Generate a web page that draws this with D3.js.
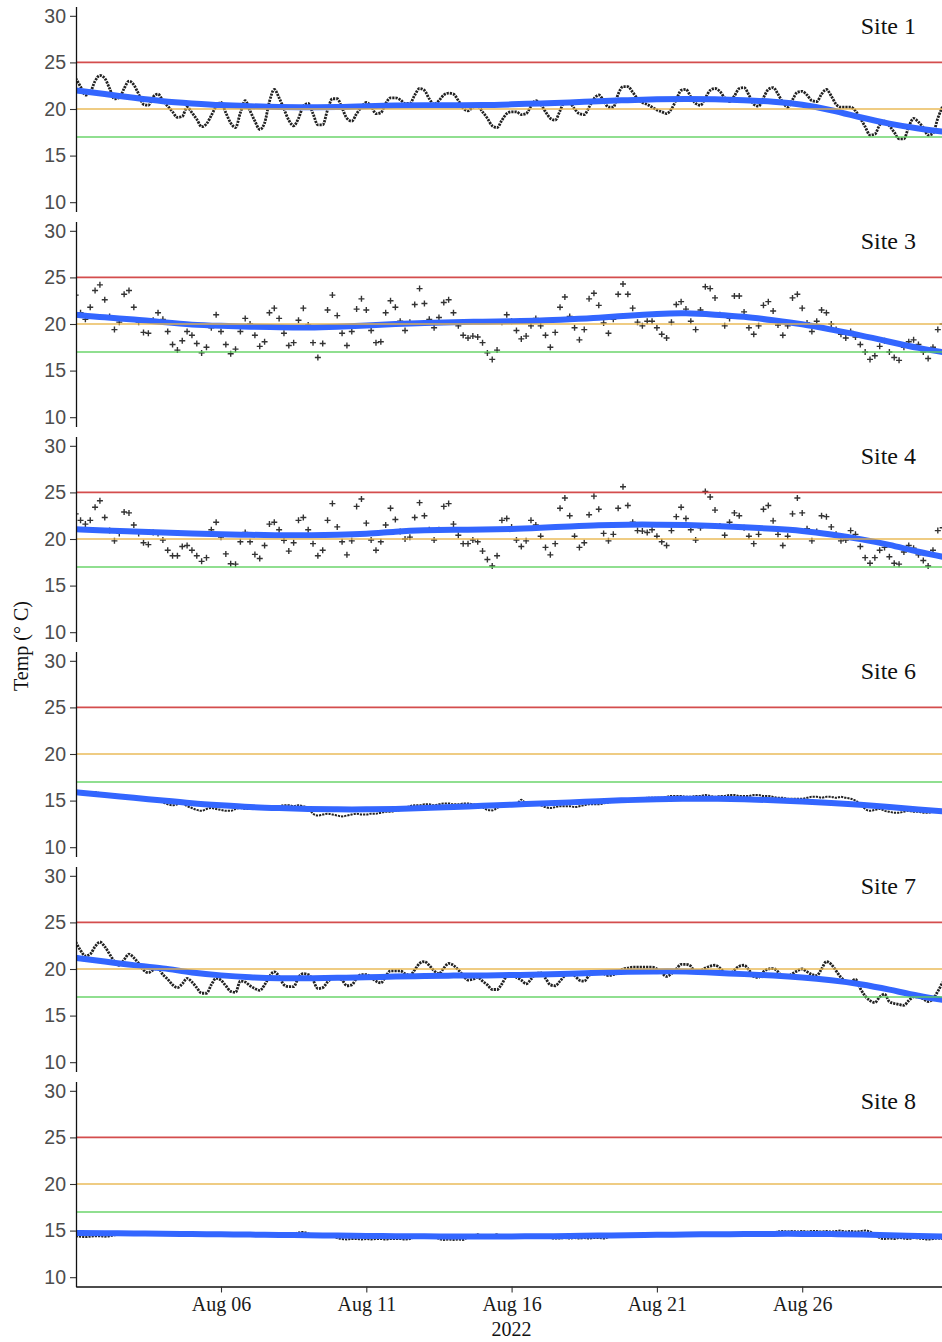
<!DOCTYPE html>
<html><head><meta charset="utf-8">
<script src="https://cdn.jsdelivr.net/npm/d3@7"></script>
<style>body{margin:0;background:#fff}</style>
</head><body><svg id="c" width="942" height="1342"></svg>
<script>
// ---------- DATA ----------
const siteNames = ["Site 1","Site 3","Site 4","Site 6","Site 7","Site 8"];
// 4-hourly readings starting 2022-08-01 00:00
const site1Temp = [
23.3,22.4,21.5,21.8,23.0,23.6, 23.3,22.2,21.1,21.2,22.2,23.0, 22.6,21.6,20.5,20.4,21.3,21.6,
20.9,20.3,19.7,19.1,19.2,20.2, 19.6,18.9,18.1,18.4,19.3,20.3, 20.7,19.6,18.5,18.0,19.6,20.9,
19.8,18.7,17.8,18.5,20.8,22.1, 21.2,20.0,18.8,18.2,19.0,20.3, 20.6,19.5,18.3,18.3,19.9,21.1,
21.1,20.1,19.0,18.7,19.5,20.2, 20.7,20.3,19.5,19.6,20.6,21.2, 21.2,21.0,20.6,20.6,21.5,22.2,
22.0,21.1,20.5,20.9,21.5,21.7, 21.6,20.9,20.1,19.8,20.2,20.3, 19.7,19.0,18.2,18.0,18.8,19.5,
19.7,19.7,19.4,19.5,20.3,20.9, 20.5,19.7,19.0,18.8,19.8,20.8, 20.7,20.0,19.5,19.4,20.2,21.1,
21.5,20.9,20.2,20.2,21.6,22.4, 22.4,21.8,21.1,20.7,20.5,20.2, 19.9,19.7,19.5,20.0,21.0,22.0,
22.1,21.3,20.6,20.4,21.2,22.0, 22.2,21.9,21.2,20.8,21.4,22.2, 22.3,21.5,20.5,20.3,21.2,22.1,
22.3,21.6,20.7,20.2,21.0,21.8, 21.9,21.5,20.9,20.8,21.6,22.1, 21.4,20.5,20.2,20.2,20.2,19.8,
19.0,18.1,17.2,17.3,18.3,18.7, 18.2,17.5,16.8,16.8,18.1,19.0, 18.6,18.0,17.2,17.4,19.0,20.3];
const site3Temp = [
23.1,21.2,20.5,21.8,23.6,24.2, 22.6,20.8,19.4,20.2,23.2,23.6, 21.8,20.2,19.1,19.0,20.4,21.2,
20.5,19.2,17.8,17.2,18.2,19.2, 18.8,17.9,16.9,17.5,19.6,21.0, 19.2,17.8,16.8,17.3,19.2,20.6,
20.0,18.8,17.6,18.1,21.2,21.7, 20.6,19.0,17.7,18.0,20.4,21.7, 19.9,18.0,16.4,17.9,21.5,23.1,
20.9,19.0,17.7,19.2,21.6,22.7, 21.5,19.3,18.0,18.1,21.2,22.5, 21.8,20.3,19.3,20.2,22.1,23.8,
22.2,20.5,19.6,20.7,22.3,22.6, 21.2,19.8,18.8,18.5,18.7,18.6, 18.0,16.9,16.2,17.2,20.2,21.0,
20.3,19.3,18.4,18.7,19.8,20.6, 19.8,18.8,17.5,19.1,21.8,22.9, 20.8,19.6,18.3,19.4,22.7,23.3,
22.0,20.1,19.0,20.5,23.2,24.3, 23.2,21.7,20.2,19.8,20.3,20.3, 19.6,18.9,18.5,20.2,22.1,22.4,
21.6,20.3,19.4,21.5,24.0,23.8, 22.8,21.0,19.8,20.6,23.0,23.0, 21.3,19.6,18.9,19.8,22.0,22.4,
21.4,19.9,18.8,19.8,22.8,23.2, 21.7,20.1,19.2,20.3,21.5,21.2, 20.0,19.4,18.9,18.5,19.2,18.6,
17.8,17.0,16.2,16.6,17.6,18.2, 17.0,16.4,16.1,17.5,18.1,18.3, 17.8,17.0,16.3,17.5,19.4,20.0];
const site4Temp = [
22.7,22.0,21.6,22.0,23.4,24.1, 22.3,20.9,19.8,20.6,22.9,22.8, 21.5,20.6,19.6,19.4,20.7,20.6,
19.9,18.8,18.2,18.2,19.2,19.3, 18.8,18.2,17.6,18.0,21.0,21.8, 20.2,18.4,17.35,17.3,19.7,20.7,
19.7,18.35,17.9,19.3,21.6,21.8, 21.0,19.85,18.7,19.6,22.0,22.3, 21.0,19.5,18.2,18.8,22.0,23.8,
21.3,19.7,18.3,19.8,23.5,24.3, 21.7,19.9,18.8,19.7,21.5,23.3, 22.1,20.8,20.0,20.2,22.3,23.9,
22.5,21.0,19.9,21.0,23.5,23.8, 21.6,20.4,19.5,19.5,19.9,19.7, 18.7,17.8,17.1,18.2,22.0,22.2,
21.3,19.9,19.2,19.8,22.0,21.5, 20.3,19.1,18.3,19.5,23.3,24.4, 22.5,20.3,19.1,19.6,22.6,24.6,
23.2,20.6,19.8,20.5,23.3,25.6, 23.6,21.8,20.9,20.85,20.7,21.0, 20.3,19.7,19.3,20.9,22.4,23.4,
22.2,21.0,19.9,21.2,25.1,24.5, 23.1,21.4,20.4,21.8,22.8,22.5, 21.2,20.3,19.5,20.5,23.2,23.6,
21.95,20.5,19.3,20.3,22.7,24.4, 22.8,21.1,19.8,20.8,22.5,22.4, 21.3,20.5,19.8,19.9,20.9,20.5,
19.2,18.0,17.4,18.0,18.8,19.1, 18.1,17.4,17.3,18.6,19.3,19.0, 18.3,17.7,17.1,18.8,20.9,21.2];
const site6Temp = [
15.9,15.95,15.9,15.85,15.9,15.8, 15.7,15.6,15.5,15.55,15.6,15.4, 15.3,15.2,15.1,15.15,15.2,15.0,
14.8,14.6,14.5,14.6,14.7,14.4, 14.2,14.0,13.9,14.1,14.2,14.1, 14.0,13.9,13.9,14.1,14.2,14.1,
14.1,14.2,14.2,14.3,14.4,14.3, 14.4,14.5,14.5,14.4,14.5,14.4, 14.2,13.6,13.4,13.5,13.6,13.5,
13.4,13.3,13.4,13.5,13.6,13.5, 13.5,13.6,13.6,13.7,13.8,13.8, 13.9,14.0,14.2,14.4,14.5,14.5,
14.6,14.6,14.5,14.6,14.7,14.7, 14.6,14.6,14.7,14.7,14.6,14.5, 14.3,14.0,13.95,14.2,14.4,14.5,
14.5,14.6,15.1,14.7,14.6,14.7, 14.5,14.3,14.2,14.3,14.4,14.4, 14.4,14.3,14.4,14.5,14.6,14.6,
14.6,14.7,14.8,14.9,15.0,15.1, 15.1,15.0,15.1,15.2,15.3,15.3, 15.3,15.3,15.4,15.5,15.5,15.5,
15.4,15.4,15.5,15.5,15.6,15.5, 15.4,15.5,15.5,15.6,15.6,15.5, 15.5,15.5,15.6,15.6,15.5,15.5,
15.4,15.3,15.3,15.2,15.2,15.2, 15.2,15.3,15.4,15.4,15.3,15.4, 15.4,15.3,15.4,15.3,15.2,15.0,
14.6,14.1,13.9,14.0,14.1,13.9, 13.8,13.7,13.7,13.8,13.9,13.8, 13.8,13.7,13.7,13.8,13.9,13.8];
const site7Temp = [
22.9,22.0,21.4,21.6,22.4,22.9, 22.4,21.6,20.8,20.4,21.0,21.6, 21.2,20.6,19.9,19.6,19.9,20.1,
19.4,18.9,18.3,18.0,18.4,19.0, 18.6,18.0,17.4,17.4,18.3,19.0, 18.8,18.2,17.6,17.5,18.7,18.6,
18.2,17.9,17.7,18.3,19.2,19.7, 19.2,18.3,18.1,18.1,19.1,19.5, 19.4,18.8,17.9,18.0,18.6,19.0,
19.0,18.8,18.2,18.3,19.0,19.4, 19.4,19.1,18.7,18.5,19.2,19.8, 19.8,19.8,19.5,19.3,19.9,20.6,
20.8,20.4,19.8,19.5,20.1,20.6, 20.4,19.9,19.3,18.8,18.9,19.1, 18.7,18.3,17.8,17.8,18.4,19.2,
19.3,19.1,18.8,18.4,18.9,19.5, 19.6,19.0,18.3,18.2,18.7,19.3, 19.5,19.3,18.8,18.7,19.3,19.6,
19.6,19.5,19.3,19.4,19.6,20.0, 20.1,20.2,20.2,20.2,20.2,20.2, 20.0,19.6,19.2,19.5,20.0,20.5,
20.5,20.3,19.6,19.8,20.1,20.3, 20.4,20.1,19.6,19.4,19.9,20.3, 20.4,19.9,19.2,19.1,19.7,20.0,
20.05,19.7,19.1,19.2,19.5,19.8, 20.0,19.7,19.4,19.3,20.0,20.8, 20.5,19.8,19.1,18.7,18.6,18.9,
17.9,17.1,16.6,16.4,17.0,17.3, 16.5,16.3,16.2,16.1,16.6,17.0, 17.0,16.8,16.5,16.8,17.6,18.6];
const site8Temp = [
14.4,14.35,14.3,14.35,14.4,14.4, 14.35,14.4,14.5,14.6,14.7,14.7, 14.75,14.7,14.7,14.75,14.8,14.7,
14.85,14.7,14.6,14.6,14.65,14.6, 14.6,14.55,14.6,14.65,14.6,14.6, 14.6,14.55,14.6,14.6,14.65,14.6,
14.6,14.55,14.6,14.6,14.6,14.55, 14.55,14.6,14.6,14.65,14.8,14.85, 14.7,14.5,14.45,14.4,14.45,14.4,
14.2,14.1,14.05,14.1,14.1,14.05, 14.1,14.05,14.1,14.1,14.05,14.1, 14.1,14.1,14.05,14.1,14.3,14.35,
14.35,14.3,14.35,14.1,14.0,14.05, 14.0,14.05,14.0,14.3,14.4,14.6, 14.4,14.35,14.4,14.6,14.35,14.3,
14.35,14.3,14.35,14.4,14.35,14.3, 14.35,14.4,14.2,14.15,14.15,14.2, 14.15,14.2,14.15,14.2,14.15,14.2,
14.2,14.15,14.3,14.4,14.45,14.45, 14.45,14.5,14.5,14.55,14.6,14.6, 14.6,14.6,14.65,14.6,14.65,14.6,
14.6,14.65,14.6,14.65,14.6,14.6, 14.65,14.6,14.6,14.65,14.6,14.6, 14.6,14.65,14.6,14.7,14.65,14.7,
14.8,14.9,14.95,14.9,14.95,14.9, 14.95,14.9,14.95,14.95,14.9,14.95, 14.9,14.95,15.0,14.9,14.95,14.9,
14.95,15.0,14.9,14.5,14.2,14.1, 14.15,14.1,14.2,14.15,14.1,14.2, 14.15,14.1,14.05,14.1,14.15,14.1];
// smoothed trend, daily at 00:00 from Aug 1 to Aug 31
const site1Trend = [22.0,21.6,21.2,20.8,20.6,20.4,20.3,20.2,20.2,20.2,20.3,20.4,20.4,20.4,20.4,20.5,20.6,20.7,20.85,20.95,21.05,21.1,21.05,20.95,20.8,20.5,19.9,19.1,18.4,17.9,17.5];
const site3Trend = [21.0,20.7,20.5,20.2,19.9,19.8,19.7,19.65,19.6,19.7,19.85,20.0,20.1,20.2,20.25,20.3,20.35,20.5,20.65,20.9,21.1,21.2,21.0,20.8,20.4,20.0,19.4,18.8,18.1,17.4,16.9];
const site4Trend = [21.05,20.9,20.8,20.7,20.6,20.5,20.45,20.4,20.4,20.45,20.55,20.8,20.95,21.0,21.0,21.05,21.2,21.35,21.5,21.55,21.55,21.5,21.4,21.25,21.1,20.9,20.5,20.0,19.4,18.6,18.0];
const site6Trend = [15.9,15.6,15.3,15.0,14.7,14.5,14.3,14.2,14.1,14.05,14.05,14.1,14.2,14.3,14.45,14.55,14.7,14.8,14.95,15.05,15.15,15.2,15.2,15.15,15.05,14.9,14.75,14.55,14.3,14.05,13.8];
const site7Trend = [21.2,20.8,20.4,20.1,19.6,19.3,19.1,19.0,19.0,19.05,19.1,19.2,19.25,19.3,19.3,19.35,19.4,19.5,19.6,19.7,19.75,19.75,19.6,19.45,19.3,19.1,18.8,18.4,17.8,17.1,16.6];
const site8Trend = [14.75,14.72,14.7,14.65,14.62,14.6,14.57,14.53,14.5,14.46,14.43,14.4,14.38,14.36,14.36,14.37,14.39,14.42,14.46,14.5,14.55,14.58,14.61,14.63,14.65,14.65,14.63,14.58,14.5,14.42,14.35];
const yTicks = [10,15,20,25,30];
const xTickLabels = ["Aug 06","Aug 11","Aug 16","Aug 21","Aug 26"];
const thresholdValues = [25,20,17];
const yearLabel = "2022";
const yTitle = "Temp (° C)";

// ---------- CHART ----------
const temps = [site1Temp, site3Temp, site4Temp, site6Temp, site7Temp, site8Temp];
const trends = [site1Trend, site3Trend, site4Trend, site6Trend, site7Trend, site8Trend];
const thresholdColors = ["#d03a3a", "#e8b448", "#5cd05c"];
const markerSites = new Set(["Site 3","Site 4"]);

const svg = d3.select("#c");
const start = Date.UTC(2022,7,1);
const H = 3600*1000;
const x = d3.scaleUtc().domain([new Date(start), new Date(Date.UTC(2022,7,31))]).range([75.7, 947.5]);
const panelH = 205, step = 215, top0 = 6.5;

svg.append("defs").append("clipPath").attr("id","clip")
  .append("rect").attr("x",76).attr("y",-5).attr("width",880).attr("height",215);

siteNames.forEach((name, k) => {
  const top = top0 + step*k;
  const y = d3.scaleLinear().domain([9,31]).range([top+panelH, top]);
  const g = svg.append("g");
  const pg = g.append("g").attr("clip-path","url(#clip)").attr("transform",`translate(0,${top})`);
  const yy = v => y(v) - top;
  const pts = temps[k].map((v,i) => ({t: new Date(start + i*4*H), v}));

  if (markerSites.has(name)) {
    pg.selectAll("path.pt").data(pts).join("path").attr("class","pt")
      .attr("transform", d => `translate(${x(d.t)},${yy(d.v)})`)
      .attr("d","M-3,0H3M0,-3V3")
      .attr("stroke","#333").attr("stroke-width",1.4).attr("fill","none");
  } else {
    const ln = d3.line().x(d => x(d.t)).y(d => yy(d.v)).curve(d3.curveMonotoneX);
    const w = (name === "Site 6" || name === "Site 8") ? 2.0 : 2.8;
    pg.append("path").datum(pts).attr("d", ln)
      .attr("fill","none").attr("stroke","#222").attr("stroke-width",w)
      .attr("stroke-dasharray","2.2,1");
  }

  const tr = trends[k].map((v,i) => ({t: new Date(start + i*24*H), v}));
  pg.append("path").datum(tr)
    .attr("d", d3.line().x(d => x(d.t)).y(d => yy(d.v)).curve(d3.curveBasis))
    .attr("fill","none").attr("stroke","#3366ff").attr("stroke-width",6);

  thresholdValues.forEach((tv, j) => {
    pg.append("line").attr("x1",76).attr("x2",950).attr("y1",yy(tv)).attr("y2",yy(tv))
      .attr("stroke",thresholdColors[j]).attr("stroke-width",1.6).attr("opacity",0.9);
  });

  // y axis
  const ax = g.append("g").attr("transform","translate(76,0)")
    .call(d3.axisLeft(y).tickValues(yTicks).tickSize(6).tickSizeOuter(0).tickPadding(4));
  ax.select(".domain").attr("stroke","#111").attr("stroke-width",1.3);
  ax.selectAll(".tick line").attr("stroke","#333").attr("stroke-width",1.1);
  ax.selectAll(".tick text").attr("fill","#4d4d4d")
    .style("font-family","'Liberation Sans', Arial, sans-serif").style("font-size","19.5px");

  g.append("text").attr("x",916).attr("y",top+27).attr("text-anchor","end")
    .style("font-family","'Liberation Serif', 'Times New Roman', serif").style("font-size","24px")
    .attr("fill","#111").text(name);
});

// x axis on bottom panel
const bottom = top0 + step*5 + panelH;
const parse = d3.utcParse("%b %d %Y");
const tickDates = xTickLabels.map(s => parse(s + " 2022"));
const xa = svg.append("g").attr("transform",`translate(0,${bottom})`)
  .call(d3.axisBottom(x).tickValues(tickDates).tickFormat(d3.utcFormat("%b %d")).tickSize(6).tickSizeOuter(0).tickPadding(4));
xa.select(".domain").attr("stroke","#111").attr("stroke-width",1.3);
xa.selectAll(".tick line").attr("stroke","#333").attr("stroke-width",1.1);
xa.selectAll(".tick text").attr("fill","#1a1a1a")
  .style("font-family","'Liberation Serif', 'Times New Roman', serif").style("font-size","20px");

svg.append("text").attr("x", (x.range()[0]+x.range()[1])/2).attr("y", 1336).attr("text-anchor","middle")
  .style("font-family","'Liberation Serif', 'Times New Roman', serif").style("font-size","20px")
  .attr("fill","#111").text(yearLabel);

svg.append("text").attr("transform","translate(28,646) rotate(-90)").attr("text-anchor","middle")
  .style("font-family","'Liberation Serif', 'Times New Roman', serif").style("font-size","20px")
  .attr("fill","#111").text(yTitle);
</script></body></html>
